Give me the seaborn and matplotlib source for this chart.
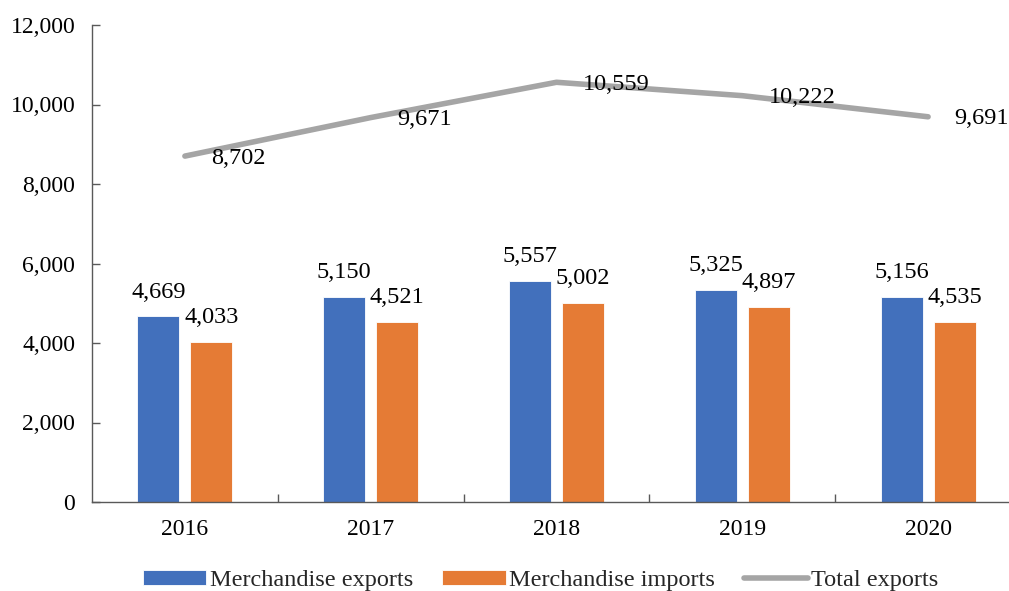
import numpy as np
import pandas as pd
import matplotlib
matplotlib.use("Agg")
import matplotlib.pyplot as plt
from matplotlib.ticker import FuncFormatter, FixedLocator
import seaborn as sns

# data
years = ["2016", "2017", "2018", "2019", "2020"]
merch_exports = [4669, 5150, 5557, 5325, 5156]
merch_imports = [4033, 4521, 5002, 4897, 4535]
total_exports = [8702, 9671, 10559, 10222, 9691]

blue = "#4270BC"
orange = "#E57B35"
grey = "#A5A5A5"

sns.set_theme(style="white")
plt.rcParams["font.family"] = ["Liberation Serif", "DejaVu Serif"]

df = pd.DataFrame({
    "year": years * 2,
    "value": merch_exports + merch_imports,
    "series": ["Merchandise exports"] * len(years) + ["Merchandise imports"] * len(years),
})

fig = plt.figure(figsize=(10.09, 5.91), dpi=100)
ax = fig.add_axes([92 / 1009, 89 / 591, 929 / 1009, 477 / 591])

sns.barplot(data=df, x="year", y="value", hue="series", order=years,
            palette=[blue, orange], width=0.572, gap=0.21, ax=ax,
            edgecolor="white", linewidth=0.6, saturation=1)
sns.lineplot(x=np.arange(len(years)), y=total_exports, color=grey, lw=4,
             ax=ax, label="Total exports", solid_capstyle="round")

fs = 17.5
for cont in ax.containers:
    ax.bar_label(cont, fmt="{:,.0f}", padding=10, fontsize=fs, color="black")

for i, v in enumerate(total_exports):
    ax.annotate(f"{v:,}", (i, v), xytext=(19, -1.5), textcoords="offset points",
                ha="left", va="center", fontsize=fs, color="black")

ax.set_xlim(-0.5, 4.5)
ax.set_ylim(0, 12000)
ax.set_yticks(range(0, 12001, 2000))
ax.yaxis.set_major_formatter(FuncFormatter(lambda v, p: f"{v:,.0f}"))
ax.set_xlabel("")
ax.set_ylabel("")

ax.xaxis.set_minor_locator(FixedLocator(np.arange(0.5, 5, 1)))
ax.tick_params(axis="x", which="major", length=0, pad=12, labelsize=17, labelcolor="black")
ax.tick_params(axis="x", which="minor", direction="in", length=6, width=1, color="#595959", bottom=True)
ax.tick_params(axis="y", direction="in", length=6, width=1, color="#595959", pad=12,
               labelsize=17, labelcolor="black", left=True)

for s in ["top", "right"]:
    ax.spines[s].set_visible(False)
for s in ["left", "bottom"]:
    ax.spines[s].set_color("#595959")
    ax.spines[s].set_linewidth(1)

handles, labels = ax.get_legend_handles_labels()
ax.get_legend().remove()
fig.legend(handles, labels, loc="center", bbox_to_anchor=(0.536, 0.018), ncol=3,
           frameon=False, fontsize=fs, handlelength=2.6, handleheight=0.55,
           handletextpad=0.15, columnspacing=1.2, borderpad=0)

fig.savefig("out.png", dpi=100)
